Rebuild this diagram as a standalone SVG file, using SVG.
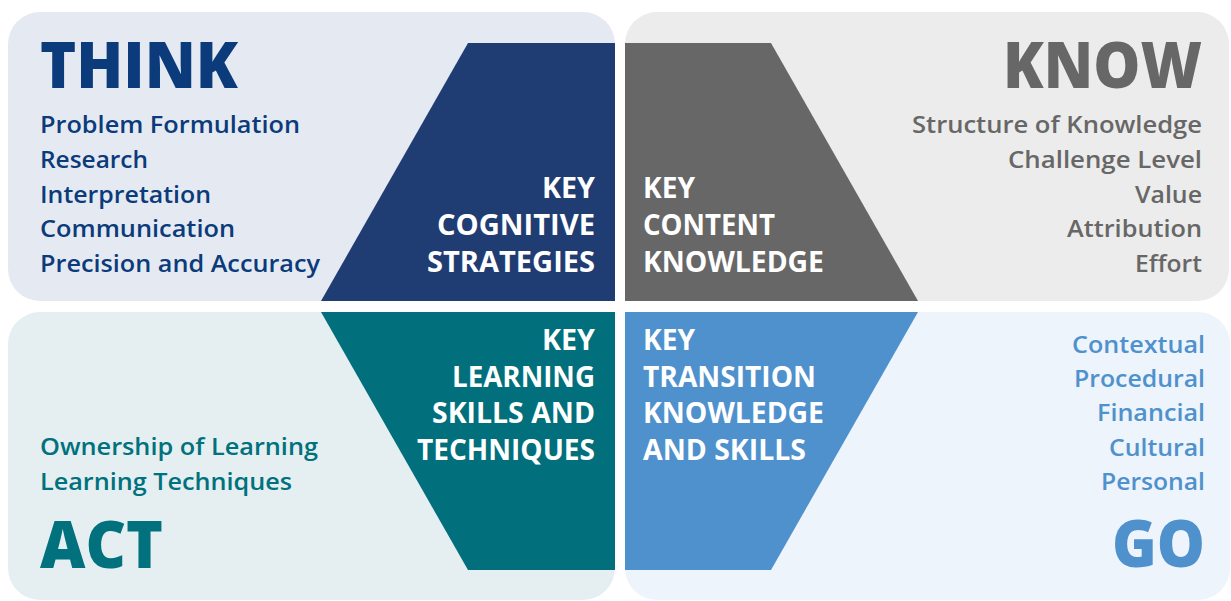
<svg xmlns="http://www.w3.org/2000/svg" width="1231" height="601" viewBox="0 0 1231 601">
<style>
text{font-family:"Open Sans","Liberation Sans",sans-serif}
.h{font-weight:800;font-size:63px}
.hb{font-weight:800;font-size:66px}
.l{font-weight:600;font-size:24px}
.k{font-weight:700;font-size:28px;fill:#ffffff}
.think{fill:#0b3b7b}
.know{fill:#676767}
.act{fill:#00717d}
.go{fill:#4f91cc}
</style>
<rect width="1231" height="601" fill="#ffffff"/>
<g id="think">
<rect x="8" y="12" width="607" height="289" rx="32" fill="#e5eaf2"/>
<path d="M468,43 L615,43 L615,301 L321,301 Z" fill="#203d73"/>
<text class="h think" x="40" y="88" textLength="198" lengthAdjust="spacingAndGlyphs">THINK</text>
<text class="l think" x="40" y="133" textLength="260" lengthAdjust="spacingAndGlyphs">Problem Formulation</text>
<text class="l think" x="40" y="168" textLength="108" lengthAdjust="spacingAndGlyphs">Research</text>
<text class="l think" x="40" y="203" textLength="171" lengthAdjust="spacingAndGlyphs">Interpretation</text>
<text class="l think" x="40" y="237" textLength="195" lengthAdjust="spacingAndGlyphs">Communication</text>
<text class="l think" x="40" y="272" textLength="280" lengthAdjust="spacingAndGlyphs">Precision and Accuracy</text>
<text class="k" x="542" y="198" textLength="53" lengthAdjust="spacingAndGlyphs">KEY</text>
<text class="k" x="437" y="235" textLength="158" lengthAdjust="spacingAndGlyphs">COGNITIVE</text>
<text class="k" x="427" y="272" textLength="168" lengthAdjust="spacingAndGlyphs">STRATEGIES</text>
</g>
<g id="know">
<rect x="625" y="12" width="604" height="289" rx="32" fill="#ececec"/>
<path d="M625,43 L771,43 L918,301 L625,301 Z" fill="#676767"/>
<text class="h know" x="1003" y="88" textLength="199" lengthAdjust="spacingAndGlyphs">KNOW</text>
<text class="l know" x="912" y="133" textLength="290" lengthAdjust="spacingAndGlyphs">Structure of Knowledge</text>
<text class="l know" x="1008" y="168" textLength="194" lengthAdjust="spacingAndGlyphs">Challenge Level</text>
<text class="l know" x="1135" y="203" textLength="67" lengthAdjust="spacingAndGlyphs">Value</text>
<text class="l know" x="1067" y="237" textLength="135" lengthAdjust="spacingAndGlyphs">Attribution</text>
<text class="l know" x="1135" y="272" textLength="67" lengthAdjust="spacingAndGlyphs">Effort</text>
<text class="k" x="643" y="198" textLength="52" lengthAdjust="spacingAndGlyphs">KEY</text>
<text class="k" x="643" y="235" textLength="132" lengthAdjust="spacingAndGlyphs">CONTENT</text>
<text class="k" x="643" y="272" textLength="181" lengthAdjust="spacingAndGlyphs">KNOWLEDGE</text>
</g>
<g id="act">
<rect x="8" y="312" width="607" height="288" rx="32" fill="#e5eff2"/>
<path d="M321,312 L615,312 L615,570 L468,570 Z" fill="#016f7c"/>
<text class="l act" x="40" y="455" textLength="278" lengthAdjust="spacingAndGlyphs">Ownership of Learning</text>
<text class="l act" x="40" y="490" textLength="252" lengthAdjust="spacingAndGlyphs">Learning Techniques</text>
<text class="hb act" x="40" y="568" textLength="123" lengthAdjust="spacingAndGlyphs">ACT</text>
<text class="k" x="542" y="350" textLength="53" lengthAdjust="spacingAndGlyphs">KEY</text>
<text class="k" x="452" y="387" textLength="143" lengthAdjust="spacingAndGlyphs">LEARNING</text>
<text class="k" x="432" y="423" textLength="163" lengthAdjust="spacingAndGlyphs">SKILLS AND</text>
<text class="k" x="417" y="460" textLength="178" lengthAdjust="spacingAndGlyphs">TECHNIQUES</text>
</g>
<g id="go">
<rect x="625" y="312" width="605" height="288" rx="32" fill="#edf4fb"/>
<path d="M625,312 L918,312 L771,570 L625,570 Z" fill="#4f91cc"/>
<text class="l go" x="1072" y="353" textLength="133" lengthAdjust="spacingAndGlyphs">Contextual</text>
<text class="l go" x="1074" y="387" textLength="131" lengthAdjust="spacingAndGlyphs">Procedural</text>
<text class="l go" x="1097" y="421" textLength="108" lengthAdjust="spacingAndGlyphs">Financial</text>
<text class="l go" x="1109" y="456" textLength="96" lengthAdjust="spacingAndGlyphs">Cultural</text>
<text class="l go" x="1101" y="490" textLength="104" lengthAdjust="spacingAndGlyphs">Personal</text>
<text class="hb go" x="1112" y="567" textLength="93" lengthAdjust="spacingAndGlyphs">GO</text>
<text class="k" x="643" y="350" textLength="52" lengthAdjust="spacingAndGlyphs">KEY</text>
<text class="k" x="643" y="387" textLength="173" lengthAdjust="spacingAndGlyphs">TRANSITION</text>
<text class="k" x="643" y="423" textLength="181" lengthAdjust="spacingAndGlyphs">KNOWLEDGE</text>
<text class="k" x="643" y="460" textLength="163" lengthAdjust="spacingAndGlyphs">AND SKILLS</text>
</g>
<g id="connectors"></g>
</svg>
